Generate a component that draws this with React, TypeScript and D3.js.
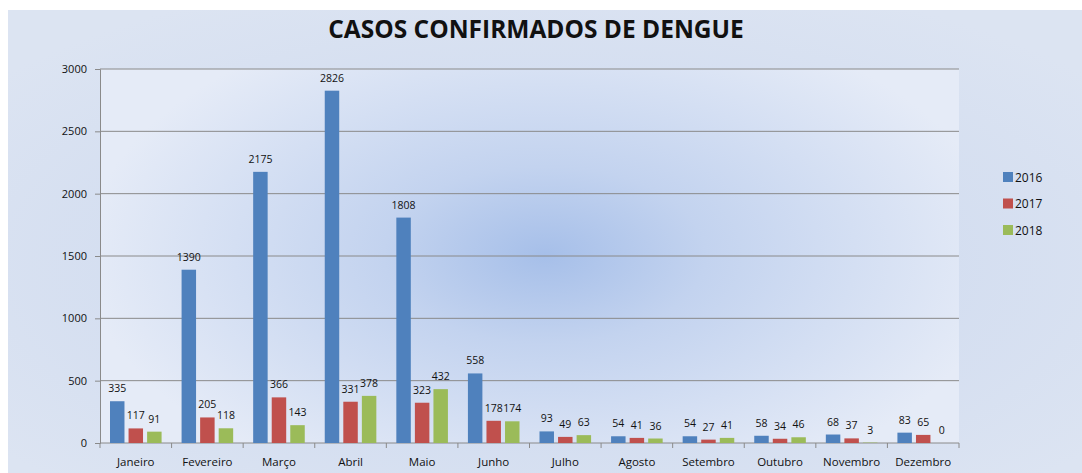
import React, { useEffect, useRef } from 'react';
import * as d3 from 'd3';

const months = ["Janeiro", "Fevereiro", "Março", "Abril", "Maio", "Junho", "Julho", "Agosto", "Setembro", "Outubro", "Novembro", "Dezembro"];
const years = ["2016", "2017", "2018"];
const cases2016 = [335, 1390, 2175, 2826, 1808, 558, 93, 54, 54, 58, 68, 83];
const cases2017 = [117, 205, 366, 331, 323, 178, 49, 41, 27, 34, 37, 65];
const cases2018 = [91, 118, 143, 378, 432, 174, 63, 36, 41, 46, 3, 0];
const yTicks = [0, 500, 1000, 1500, 2000, 2500, 3000];
const colors = ["#4f81bd", "#c0504d", "#9bbb59"];

const W = 1082;
const H = 473;

const App: React.FC = () => {
  const svgRef = useRef<SVGSVGElement>(null);

  useEffect(() => {
    if (!svgRef.current) return;
    const svg = d3.select(svgRef.current);
    svg.selectAll("*").remove();

    const font = "'Open Sans', 'Noto Sans', sans-serif";
    const left = 100, right = 959, top = 69, bottom = 443;

    const defs = svg.append("defs");
    const outer = defs.append("radialGradient").attr("id", "outerBg")
      .attr("cx", "50%").attr("cy", "55%").attr("r", "65%");
    outer.append("stop").attr("offset", "0%").attr("stop-color", "#c9d6ee");
    outer.append("stop").attr("offset", "100%").attr("stop-color", "#dce4f2");

    const inner = defs.append("radialGradient").attr("id", "innerBg")
      .attr("gradientUnits", "userSpaceOnUse")
      .attr("cx", 545).attr("cy", 255).attr("r", 460)
      .attr("gradientTransform", "translate(545,255) scale(1,0.55) translate(-545,-255)");
    inner.append("stop").attr("offset", "0%").attr("stop-color", "#a6bfe9");
    inner.append("stop").attr("offset", "35%").attr("stop-color", "#c3d3ef");
    inner.append("stop").attr("offset", "100%").attr("stop-color", "#e5ebf7");

    svg.append("rect").attr("x", 8).attr("y", 10).attr("width", W - 8).attr("height", H - 10)
      .attr("fill", "url(#outerBg)");
    svg.append("rect").attr("x", left).attr("y", top).attr("width", right - left).attr("height", bottom - top)
      .attr("fill", "url(#innerBg)");

    svg.append("text").attr("x", 536).attr("y", 38).attr("text-anchor", "middle")
      .attr("font-family", font).attr("font-weight", "bold").attr("font-size", 24.5)
      .attr("fill", "#111").text("CASOS CONFIRMADOS DE DENGUE");

    const x0 = d3.scaleBand<string>().domain(months).range([left, right]);
    const x1 = d3.scaleBand<string>().domain(years).range([10, x0.bandwidth() - 10]).paddingInner(0.22);
    const y = d3.scaleLinear().domain([0, 3000]).range([bottom, top]);

    // gridlines
    svg.append("g").selectAll("line").data(yTicks.filter(t => t > 0)).join("line")
      .attr("x1", left).attr("x2", right).attr("y1", d => y(d)).attr("y2", d => y(d))
      .attr("stroke", "#8a8a8a").attr("stroke-width", 1);

    // y axis
    const yAxis = svg.append("g").attr("transform", `translate(${left},0)`)
      .call(d3.axisLeft(y).tickValues(yTicks).tickSize(5).tickPadding(8).tickFormat(d3.format("d")));
    yAxis.select(".domain").attr("stroke", "#8a8a8a");
    yAxis.selectAll(".tick line").attr("stroke", "#8a8a8a");
    yAxis.selectAll("text").attr("font-family", font).attr("font-size", 11).attr("fill", "#111");

    // x axis
    const xAxis = svg.append("g").attr("transform", `translate(0,${bottom})`);
    xAxis.append("line").attr("x1", left).attr("x2", right).attr("stroke", "#8a8a8a");
    xAxis.selectAll(".tk").data(d3.range(months.length + 1)).join("line")
      .attr("x1", i => left + i * x0.bandwidth()).attr("x2", i => left + i * x0.bandwidth())
      .attr("y1", 0).attr("y2", 5).attr("stroke", "#8a8a8a");
    xAxis.selectAll("text").data(months).join("text")
      .attr("x", d => x0(d)! + x0.bandwidth() / 2).attr("y", 23).attr("text-anchor", "middle")
      .attr("font-family", font).attr("font-size", 11.5).attr("fill", "#111").text(d => d);

    const series = [cases2016, cases2017, cases2018];
    series.forEach((vals, si) => {
      const g = svg.append("g");
      g.selectAll("rect").data(vals).join("rect")
        .attr("x", (_, i) => x0(months[i])! + x1(years[si])!)
        .attr("width", x1.bandwidth())
        .attr("y", d => y(d)).attr("height", d => bottom - y(d))
        .attr("fill", colors[si]);
      g.selectAll("text").data(vals).join("text")
        .attr("x", (_, i) => x0(months[i])! + x1(years[si])! + x1.bandwidth() / 2)
        .attr("y", d => y(d) - 9).attr("text-anchor", "middle")
        .attr("font-family", font).attr("font-size", 10.5).attr("fill", "#111").text(d => d);
    });

    // legend
    const lg = svg.append("g").attr("transform", "translate(1003,177)");
    years.forEach((yr, i) => {
      lg.append("rect").attr("x", 0).attr("y", i * 26.5 - 5).attr("width", 10).attr("height", 10).attr("fill", colors[i]);
      lg.append("text").attr("x", 12).attr("y", i * 26.5 + 4.5)
        .attr("font-family", font).attr("font-size", 12).attr("fill", "#111").text(yr);
    });
  }, []);

  return <svg ref={svgRef} width={W} height={H} style={{ display: 'block', position: 'absolute', left: 0, top: 0 }} />;
};

export default App;
